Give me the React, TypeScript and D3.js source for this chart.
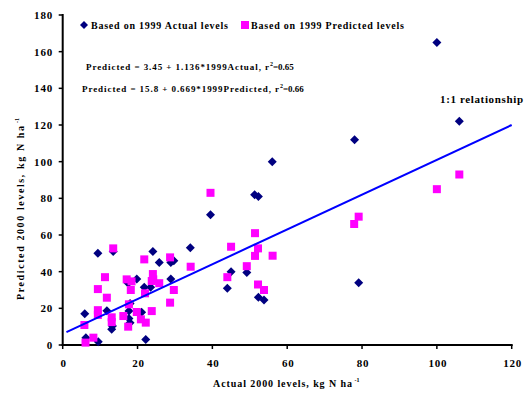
import React from "react";
import * as d3 from "d3";

const actualX = [100, 106, 78, 56, 51.3, 52.3, 49.2, 52.3, 53.8, 79.1, 39.5, 45, 44, 9.4, 13.5, 24.1, 25.8, 28.9, 29.7, 34.1, 19.8, 28.9, 21.8, 23.5, 5.9, 11.8, 17.7, 17.7, 13.1, 6.2, 9.5, 22.2, 18, 21.1, 17.5, 13.3, 18];
const actualY = [165, 122, 112, 100, 82, 81, 39.5, 26, 24.5, 34, 71, 40, 31, 50, 51, 51, 45, 45, 46, 53, 36, 36, 31.5, 31.5, 17, 18.7, 18.5, 14.5, 8.6, 4, 1.8, 3, 22.7, 17.8, 33.7, 10.4, 12.2];

const predX = [106, 100, 79.1, 77.9, 51.4, 52.2, 51.4, 56.1, 49.2, 52.2, 53.8, 39.5, 45, 44, 13.5, 21.8, 28.7, 34.2, 11.3, 17.1, 18.4, 24.1, 23.8, 25.8, 29.7, 9.4, 18.2, 11.8, 22, 23.8, 17.7, 19.8, 20.9, 22.2, 16.2, 13.1, 13.1, 9.4, 9.4, 17.5, 5.8, 8.2, 6.1, 28.7, 24.2];
const predY = [93, 85, 70, 66, 61, 52.7, 48.6, 48.7, 43, 33, 30, 83, 53.6, 37, 52.7, 46.7, 47.8, 42.7, 37, 35.8, 34.7, 38.7, 34.9, 33.7, 30, 30.5, 30, 25.8, 28.2, 18.5, 22.2, 18, 14, 12.2, 15.8, 15.1, 12.5, 19, 16.4, 10, 10.9, 4, 1.3, 23.1, 35.8];

const lineX = [1, 120];
const lineY = [7, 120];

const xTicks = [0, 20, 40, 60, 80, 100, 120];
const yTicks = [0, 20, 40, 60, 80, 100, 120, 140, 160, 180];

const NAVY = "#000080";
const MAGENTA = "#FF00FF";
const BLUE = "#0000FF";
const FONT = "'Liberation Serif', 'Times New Roman', serif";

const diamond = (r: number) => `M0,${-r}L${r},0L0,${r}L${-r},0Z`;

export default function App() {
  const W = 524, H = 394;
  const x = d3.scaleLinear().domain([0, 120]).range([62.7, 511.7]);
  const y = d3.scaleLinear().domain([0, 180]).range([345, 15]);
  const line = d3.line<number>().x((_, i) => x(lineX[i])).y((d) => y(d));

  return (
    <svg width={W} height={H} style={{ position: "absolute", left: 0, top: 0 }} fontFamily={FONT} fontWeight="bold">
      <rect width={W} height={H} fill="#fff" />
      {/* axes */}
      <line x1={x(0)} x2={x(0)} y1={y(180) - 1} y2={y(0) + 1} stroke="#000" strokeWidth={2} />
      <line x1={x(0) - 1} x2={x(120) + 1} y1={y(0)} y2={y(0)} stroke="#000" strokeWidth={2} />
      {yTicks.map((t) => (
        <g key={"y" + t}>
          <line x1={x(0) - 4} x2={x(0)} y1={y(t)} y2={y(t)} stroke="#000" strokeWidth={1.5} />
          <text x={53} y={y(t) + 4} fontSize={11} textAnchor="end" letterSpacing={0.8}>{t}</text>
        </g>
      ))}
      {xTicks.map((t) => (
        <g key={"x" + t}>
          <line x1={x(t)} x2={x(t)} y1={y(0)} y2={y(0) + 4} stroke="#000" strokeWidth={1.5} />
          <text x={x(t) + 1} y={367} fontSize={11} textAnchor="middle" letterSpacing={0.8}>{t}</text>
        </g>
      ))}
      {/* series */}
      {actualX.map((v, i) => (
        <path key={"a" + i} d={diamond(4.5)} transform={`translate(${x(v)},${y(actualY[i])})`} fill={NAVY} />
      ))}
      {predX.map((v, i) => (
        <rect key={"p" + i} x={x(v) - 4} y={y(predY[i]) - 4} width={8} height={8} fill={MAGENTA} />
      ))}
      <path d={line(lineY) || ""} stroke={BLUE} strokeWidth={2} fill="none" />
      {/* legend */}
      <path d={diamond(4)} transform="translate(84,25)" fill={NAVY} />
      <text x={91} y={29} fontSize={10} textLength={137} lengthAdjust="spacing">Based on 1999 Actual levels</text>
      <rect x={241} y={21} width={8} height={8} fill={MAGENTA} />
      <text x={251} y={29} fontSize={10} textLength={153} lengthAdjust="spacing">Based on 1999 Predicted levels</text>
      {/* equations */}
      <text x={86} y={70} fontSize={9}>
        <tspan textLength={183} lengthAdjust="spacing">Predicted = 3.45 + 1.136*1999Actual, r</tspan>
        <tspan fontSize={6} dy={-4}>2</tspan>
        <tspan dy={4}>=0.65</tspan>
      </text>
      <text x={82} y={92} fontSize={9}>
        <tspan textLength={197} lengthAdjust="spacing">Predicted = 15.8 + 0.669*1999Predicted, r</tspan>
        <tspan fontSize={6} dy={-4}>2</tspan>
        <tspan dy={4}>=0.66</tspan>
      </text>
      <text x={440} y={103} fontSize={11} textLength={83} lengthAdjust="spacing">1:1 relationship</text>
      {/* axis titles */}
      <text x={213} y={387} fontSize={10}>
        <tspan textLength={139} lengthAdjust="spacing">Actual 2000 levels, kg N ha</tspan>
        <tspan fontSize={6} dy={-5}> -1</tspan>
      </text>
      <text transform="translate(24,300) rotate(-90)" fontSize={10}>
        <tspan textLength={174} lengthAdjust="spacing">Predicted 2000 levels, kg N ha</tspan>
        <tspan fontSize={6} dy={-5}> -1</tspan>
      </text>
    </svg>
  );
}
